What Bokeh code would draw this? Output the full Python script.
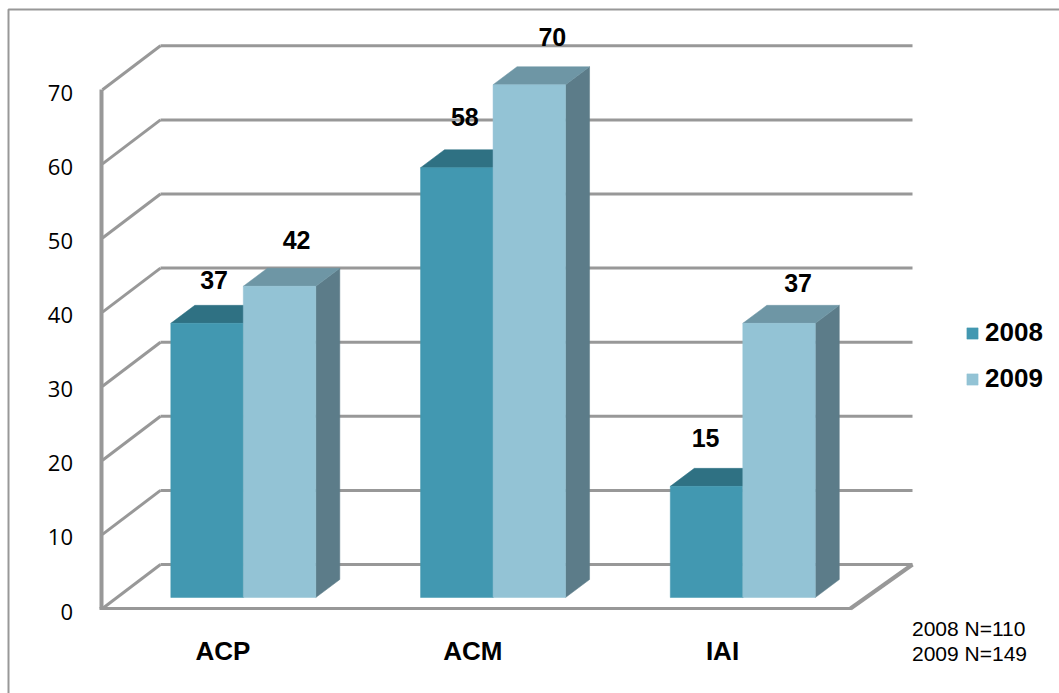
from bokeh.plotting import figure
from bokeh.embed import file_html
from bokeh.resources import INLINE
from bokeh.core.properties import value
from bokeh.models import (ColumnDataSource, FixedTicker, Legend, LegendItem, LinearAxis, Range1d)

# ---- data ----
categories = ["ACP", "ACM", "IAI"]
series_names = ["2008", "2009"]
values_2008 = [37, 58, 15]
values_2009 = [42, 70, 37]
y_ticks = [0, 10, 20, 30, 40, 50, 60, 70]
notes = ["2008 N=110", "2009 N=149"]

# ---- layout and style ----
W, H = 1059, 693
PX_Y = 7.41                # pixels per value unit
PX_X = 249.75              # pixels per category
ZERO_PX = 608              # canvas row of value 0 on the front plane
CAT0_PX = 222.5            # canvas column of first category centre
AXIS_MAX_DRAWN = 69.2      # the source's 3D box clips the tallest bar just below its label value
TICK_LABEL_DROP = 3 / PX_Y # tick labels sit slightly below their gridline level

def xu(canvas_px):
    return (canvas_px - CAT0_PX) / PX_X

def yu(canvas_px):
    return (ZERO_PX - canvas_px) / PX_Y

GREY = "#989898"
COL = {
    "2008": dict(front="#4298B1", top="#2F7183", side="#2F6C7D"),
    "2009": dict(front="#93C3D5", top="#6E96A5", side="#5C7C89"),
}

p = figure(width=W, height=H, output_backend="svg", toolbar_location=None,
           x_axis_type=None, y_axis_type=None,
           x_range=Range1d(xu(0), xu(W)), y_range=Range1d(yu(H), yu(0)),
           min_border_left=0, min_border_right=0, min_border_top=0, min_border_bottom=0)
p.extra_y_ranges = {"labels": Range1d(yu(H) + TICK_LABEL_DROP, yu(0) + TICK_LABEL_DROP)}
p.grid.visible = False
p.outline_line_color = None
p.background_fill_color = "white"
p.border_fill_color = "white"

# outer chart frame: only its left and top edges are inside the picture
p.line(x=[xu(8), xu(8), xu(W)], y=[yu(H), yu(9), yu(9)], line_color=GREY, line_width=2)

# axes, placed inside the full-canvas frame
ax_y = LinearAxis(ticker=FixedTicker(ticks=y_ticks), y_range_name="labels",
                  bounds=(TICK_LABEL_DROP, max(y_ticks) + TICK_LABEL_DROP),
                  fixed_location=xu(100.5))
ax_y.axis_line_color = GREY
ax_y.axis_line_width = 4
ax_y.major_tick_line_color = None
ax_y.minor_tick_line_color = None
ax_y.major_label_standoff = 22
ax_y.major_label_text_font = "Open Sans"
ax_y.major_label_text_font_size = "22px"
ax_y.major_label_text_color = "black"
p.add_layout(ax_y, "left")

ax_x = LinearAxis(ticker=FixedTicker(ticks=list(range(len(categories)))),
                  major_label_overrides={i: c for i, c in enumerate(categories)},
                  bounds=(xu(99), xu(851)), fixed_location=0)
ax_x.axis_line_color = GREY
ax_x.axis_line_width = 3
ax_x.major_tick_line_color = None
ax_x.minor_tick_line_color = None
ax_x.major_label_standoff = 21
ax_x.major_label_text_font = "Liberation Sans"
ax_x.major_label_text_font_style = "bold"
ax_x.major_label_text_font_size = "26px"
ax_x.major_label_text_color = "black"
p.add_layout(ax_x, "below")

# back wall, side wall and floor lines
wall_dy = 44 / PX_Y
wall_left, wall_right = xu(160), xu(912)
front_left, front_right = xu(102), xu(850)
p.segment(x0=[wall_left] * len(y_ticks), x1=[wall_right] * len(y_ticks),
          y0=[t + wall_dy for t in y_ticks], y1=[t + wall_dy for t in y_ticks],
          line_color=GREY, line_width=3)
p.segment(x0=[front_left] * len(y_ticks), x1=[wall_left] * len(y_ticks),
          y0=y_ticks, y1=[t + wall_dy for t in y_ticks],
          line_color=GREY, line_width=3)
p.segment(x0=[front_right], x1=[wall_right], y0=[0], y1=[wall_dy],
          line_color=GREY, line_width=4)

# 3D bars
bar_w = 72.5 / PX_X
depth_x = 24 / PX_X
depth_y = 18 / PX_Y
base = 11 / PX_Y
centre_shift = 20.3 / PX_X
legend_items = []
for k, (name, vals) in enumerate(zip(series_names, (values_2008, values_2009))):
    x0 = [i + centre_shift + (k - 1) * bar_w for i in range(len(vals))]
    x1 = [a + bar_w for a in x0]
    tops = [base + min(v, AXIS_MAX_DRAWN) for v in vals]
    side_x = [[b, b + depth_x, b + depth_x, b] for b in x1]
    side_y = [[base, base + depth_y, t + depth_y, t] for t in tops]
    top_x = [[a, b, b + depth_x, a + depth_x] for a, b in zip(x0, x1)]
    top_y = [[t, t, t + depth_y, t + depth_y] for t in tops]
    c = COL[name]
    p.patches(side_x, side_y, fill_color=c["side"], line_color=c["side"], line_width=0.5)
    p.patches(top_x, top_y, fill_color=c["top"], line_color=c["top"], line_width=0.5)
    r = p.quad(left=x0, right=x1, bottom=[base] * len(vals), top=tops,
               fill_color=c["front"], line_color=c["front"], line_width=0.5)
    legend_items.append(LegendItem(label=name, renderers=[r]))

# value labels
label_dx = [[7, 8, -1], [17, 23, 19]]
label_dy = [[-43, -51, -48], [-46, -48, -40]]
for k, vals in enumerate((values_2008, values_2009)):
    src = ColumnDataSource(dict(
        x=[i + centre_shift + (k - 1) * bar_w + bar_w / 2 for i in range(len(vals))],
        y=[base + min(v, AXIS_MAX_DRAWN) for v in vals],
        t=[str(v) for v in vals],
        dx=label_dx[k],
        dy=label_dy[k],
    ))
    p.text(x="x", y="y", text="t", x_offset="dx", y_offset="dy", source=src,
           text_font=value("Liberation Sans"), text_font_style="bold",
           text_font_size="25px", text_align="center", text_baseline="middle",
           text_color="black")

# sample-size notes
p.text(x=[xu(911.5)] * len(notes), y=[yu(628), yu(653)], text=notes,
       text_font=value("Liberation Sans"), text_font_size="21px",
       text_align="left", text_baseline="middle", text_color="black")

# legend
legend = Legend(items=legend_items, location=(965, 299), orientation="vertical",
                background_fill_alpha=0, border_line_color=None, margin=0, padding=0,
                spacing=15, glyph_width=14, glyph_height=14, label_height=30,
                label_standoff=6, label_text_font="Liberation Sans",
                label_text_font_style="bold", label_text_font_size="26px",
                label_text_color="black")
p.add_layout(legend, "center")

open("out.html", "w").write(file_html(p, INLINE))
